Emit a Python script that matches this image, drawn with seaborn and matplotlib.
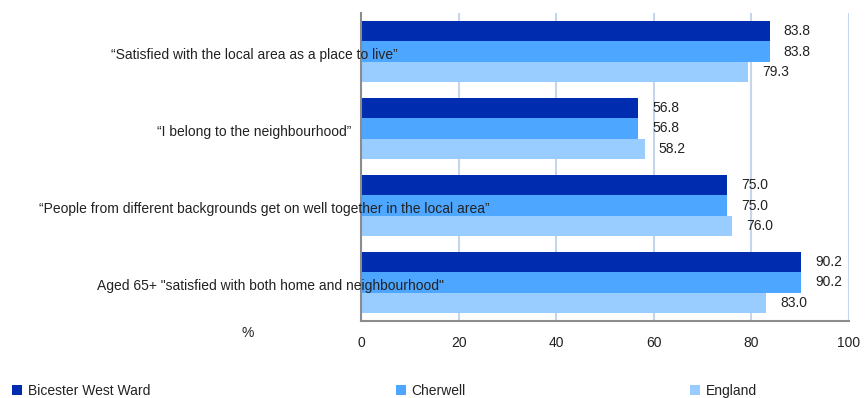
import numpy as np
import pandas as pd
import matplotlib
matplotlib.use('Agg')
import matplotlib.pyplot as plt
import seaborn as sns

# --- dane ---
categories = [
    '\u201cSatisfied with the local area as a place to live\u201d',
    '\u201cI belong to the neighbourhood\u201d',
    '\u201cPeople from different backgrounds get on well together in the local area\u201d',
    'Aged 65+ "satisfied with both home and neighbourhood"',
]
areas = ['Bicester West Ward', 'Cherwell', 'England']
bicester = [83.8, 56.8, 75.0, 90.2]
cherwell = [83.8, 56.8, 75.0, 90.2]
england = [79.3, 58.2, 76.0, 83.0]
colors = ['#002DB0', '#4DA6FF', '#99CCFF']

df = pd.DataFrame({
    'category': categories * 3,
    'area': [a for a in areas for _ in categories],
    'value': bicester + cherwell + england,
})

sns.set_style('white')
plt.rcParams['font.family'] = ['Liberation Sans', 'DejaVu Sans']
plt.rcParams['font.size'] = 10

W, H = 865, 398
fig = plt.figure(figsize=(W / 100, H / 100), dpi=100)
ax = fig.add_axes([361 / W, 1 - 321 / H, 488 / W, 308 / H])

sns.barplot(data=df, y='category', x='value', hue='area', palette=colors,
            orient='h', width=0.8, saturation=1, order=categories,
            hue_order=areas, ax=ax, legend=True, linewidth=0)

for cont in ax.containers:
    ax.bar_label(cont, fmt='%.1f', padding=10, fontsize=10, color='#222222')

ax.set_xlim(0, 100)
ax.set_ylim(3.5, -0.5)
ax.set_xticks([0, 20, 40, 60, 80, 100])
ax.set_yticks([-0.5, 0.5, 1.5, 2.5, 3.5])
ax.set_yticklabels([])
ax.set_xlabel('')
ax.set_ylabel('')
ax.xaxis.grid(True, color='#C5D5EA', linewidth=1.5)
ax.set_axisbelow(True)
for s in ['top', 'right']:
    ax.spines[s].set_visible(False)
for s in ['left', 'bottom']:
    ax.spines[s].set_color('#8C8C8C')
    ax.spines[s].set_linewidth(1.5)
ax.tick_params(axis='both', direction='out', length=6, width=1.5, color='#8C8C8C')
ax.tick_params(axis='x', pad=5, labelsize=10, labelcolor='#222222')

# etykiety kategorii, wyśrodkowane jak w oryginale (nachodzą na wykres)
label_cx = [254, 254.5, 264.5, 270]   # środek tekstu w pikselach
for i, (cat, cx) in enumerate(zip(categories, label_cx)):
    ax.text((cx - 361) / 488, i + 0.03, cat, transform=ax.get_yaxis_transform(),
            ha='center', va='center_baseline', fontsize=10, color='#222222',
            zorder=5)

fig.text(248 / W, 1 - 333 / H, '%', ha='center', va='center',
         fontsize=10, color='#222222')

# legenda: trzy osobne wpisy, rozstawione jak w oryginale
handles, labels = ax.get_legend_handles_labels()
ax.get_legend().remove()
for h, lab, x0 in zip(handles, labels, [2, 386, 680]):
    fig.legend([h], [lab], loc='lower left', bbox_to_anchor=(x0 / W, -0.025),
               frameon=False, fontsize=10, handlelength=0.75,
               handleheight=0.75, handletextpad=0.4, borderpad=0.2,
               labelcolor='#222222')

fig.savefig('out.png', dpi=100)
